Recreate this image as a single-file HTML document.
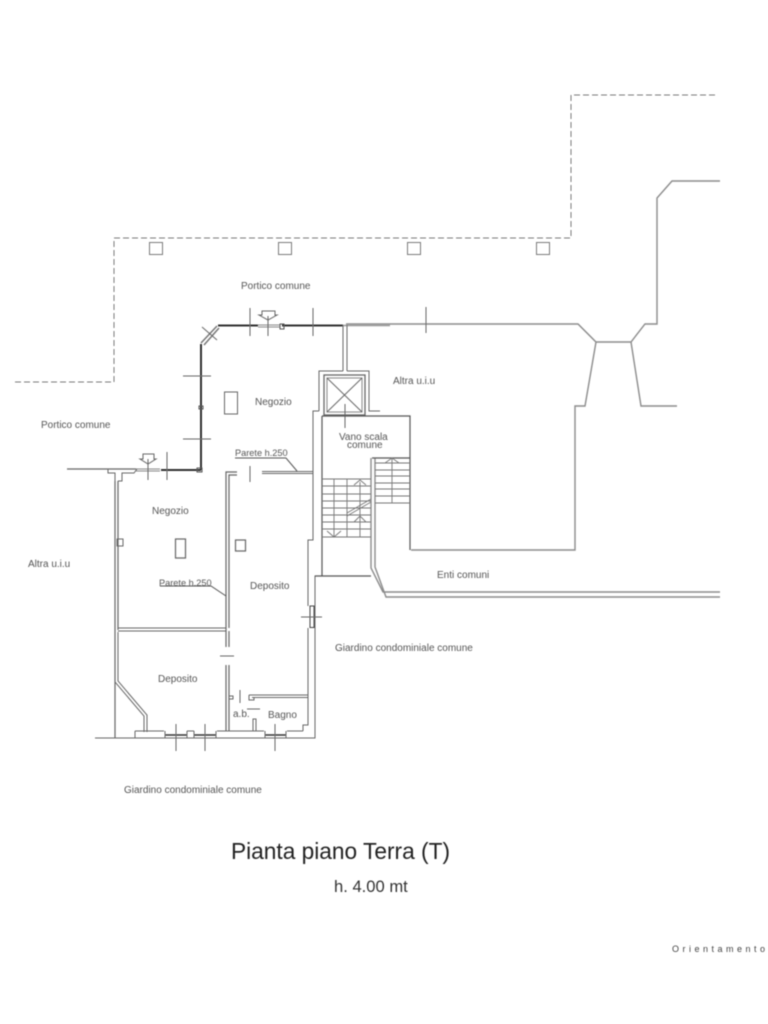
<!DOCTYPE html>
<html><head><meta charset="utf-8"><style>
html,body{margin:0;padding:0;background:#fff;width:768px;height:1024px;overflow:hidden}
svg{display:block}
text{font-family:"Liberation Sans",sans-serif;fill:#555;font-size:10px}
</style></head><body>
<svg width="768" height="1024" viewBox="0 0 768 1024" xmlns="http://www.w3.org/2000/svg">
<defs><filter id="b" x="-2%" y="-2%" width="104%" height="104%"><feGaussianBlur stdDeviation="0.45"/></filter></defs>
<g filter="url(#b)" fill="none" stroke="#7c7c7c" stroke-width="1">
<!-- dashed portico -->
<path d="M715 95H571V238H114V382H12" stroke-dasharray="6 3"/>
<rect x="149.500" y="242.500" width="13" height="12"/><rect x="278.500" y="242.500" width="13" height="12"/><rect x="407.500" y="242.500" width="13" height="12"/><rect x="536.500" y="242.500" width="13" height="12"/>
<!-- right outline -->
<g stroke="#8c8c8c" stroke-width="1.400">
<path d="M720 181H672L657 198V324H645L631 342H596L578 324H346"/>
<path d="M596 342L585 406H575V550H411"/>
<path d="M631 342L641 406H677"/>
<path d="M371 458V568L383 592H720M375 458V567L386 597H720"/>
</g>
<!-- front wall dark -->
<g stroke="#333" stroke-width="2">
<path d="M218 325.500H258M282 325.500H343"/>
<path d="M201 344V470M161 470H201"/>
</g>
<path d="M258 325H280M258 327H280M136 469H160M136 471H160" stroke="#888"/>
<path d="M201 343L217 326M204 345L219 328" stroke="#777" stroke-width="1.500"/>
<path d="M343 325.500H390" stroke="#999" stroke-width="1.500"/>
<rect x="280" y="324" width="4" height="5" stroke="#555"/>
<rect x="199" y="406" width="4" height="3" stroke="#555"/>
<rect x="197" y="468" width="5" height="4" stroke="#555"/>
<!-- cross ticks -->
<g stroke="#666">
<path d="M250 308V336M313 308V336M268 316V336M426 307V333"/>
<path d="M183 376H211M183 439H211M202 327L217 340"/>
<path d="M167 452V480M148 459V480"/>
<path d="M262 311h13v4l2 0-9 5-9-5 3 0z"/>
<path d="M143 454h11v5l2 0-8 5-8-5 3 0z"/>
</g>
<!-- left line + pilaster -->
<path d="M67 469H136" stroke="#666" stroke-width="1.300"/>
<path d="M108 469V473H115V481M137 469L134 473H122V481H118" stroke="#666"/>
<path d="M115 481V738M118 481V630" stroke="#666" stroke-width="1.200"/>
<path d="M115 630V682L144 716V732M118 632V681L147 715V732" stroke="#666"/>
<path d="M118 628H226M118 631H226" stroke="#666"/>
<rect x="117" y="539" width="6" height="7" stroke="#666"/>
<rect x="175.500" y="539" width="10" height="19" stroke="#666" stroke-width="1.200"/>
<rect x="224.500" y="392" width="13" height="22" stroke="#666"/>
<rect x="235.500" y="540" width="10" height="11" stroke="#666" stroke-width="1.200"/>
<!-- middle wall -->
<path d="M226 647V472H237M229 628V475H237" stroke="#666" stroke-width="1.200"/>
<path d="M229 631V647M226 665V731M229 665V731" stroke="#666" stroke-width="1.200"/>
<path d="M220 656H234M250 466V482M262 471.500H313M262 473.500H313M240 690V703M229 696H233V699H229" stroke="#666"/>
<path d="M249 695H308M252 697.500H308M249 695V700H254V698" stroke="#666"/>
<path d="M247 709H260" stroke="#666"/>
<path d="M253 731V719H256V731" stroke="#666"/>
<path d="M308 697V725H303V731" stroke="#666"/>
<!-- bottom wall -->
<path d="M95 738H135M135 731V738H315V576H322M135 731H164M187 731H194M217 731H264M287 731H303" stroke="#666"/>
<g stroke="#333" stroke-width="1.500"><path d="M165 735H187M194 735H216M265 735H286"/></g>
<path d="M165 731V738M187 731V738M194 731V738M216 731V738M265 731V738M286 731V738" stroke="#666"/>
<path d="M176 724V751M205 724V751M275 724V751" stroke="#666"/>
<!-- right side wall -->
<path d="M319 411V371H343M347 371H369V411H380M343 325V371M347 325V371" stroke="#666"/>
<path d="M319 411H313V540H308V606M308 628V697" stroke="#666"/>
<rect x="310" y="606" width="4" height="21.500" stroke="#444"/>
<path d="M301 617H322" stroke="#666"/>
<!-- lift -->
<rect x="324" y="375" width="41" height="40" stroke="#666" stroke-width="1.300"/>
<rect x="327" y="378" width="35" height="34" stroke="#888"/>
<path d="M327 378L362 412M362 378L327 412M345 404V428" stroke="#666"/>
<!-- stair enclosure -->
<path d="M322 416H410V550M322 416V576M315 576H371" stroke="#555" stroke-width="1.200"/>
<path d="M372 458H410" stroke="#555" stroke-width="1.200"/>
<!-- stairs -->
<g stroke="#777" stroke-width="0.900">
<path d="M322 479H371M322 486H371M322 494H371M322 501H371M322 508H371M322 515H371M322 522H371M322 529H371M322 537H371"/>
<path d="M334 479V537M347 479V537M360 482V537"/>
<path d="M375 463H410M375 470H410M375 476H410M375 483H410M375 489H410M375 496H410M375 503H410"/>
<path d="M392 458V503"/>
<path d="M354 485L360 480L366 485M354 522L360 516L366 522M385 463L392 458L399 463M327 531L334 537L341 531"/>
<path d="M347 513L371 499M347 516L371 502"/>
</g>
<!-- leaders -->
<path d="M235 458H286L297 471M160 586H211L226 596" stroke="#555"/>
</g>
<g filter="url(#b)">
<text x="241" y="289">Portico comune</text>
<text x="393" y="384">Altra u.i.u</text>
<text x="255" y="405">Negozio</text>
<text x="41" y="428">Portico comune</text>
<text x="339" y="440">Vano scala</text>
<text x="347" y="448">comune</text>
<text x="235" y="456" style="font-size:9.200px">Parete h.250</text>
<text x="152" y="514">Negozio</text>
<text x="28" y="567">Altra u.i.u</text>
<text x="437" y="578">Enti comuni</text>
<text x="159" y="586" style="font-size:9.200px">Parete h.250</text>
<text x="250" y="589">Deposito</text>
<text x="335" y="651">Giardino condominiale comune</text>
<text x="158" y="682">Deposito</text>
<text x="233" y="717">a.b.</text>
<text x="268" y="718">Bagno</text>
<text x="124" y="793">Giardino condominiale comune</text>
<text x="231" y="859" style="font-size:22.700px;fill:#222">Pianta piano Terra (T)</text>
<text x="334" y="892" style="font-size:16.600px;fill:#333">h. 4.00 mt</text>
<text x="672" y="952" style="font-size:9px;letter-spacing:3.500px;fill:#444">Orientamento</text>
</g>
</svg>
</body></html>
